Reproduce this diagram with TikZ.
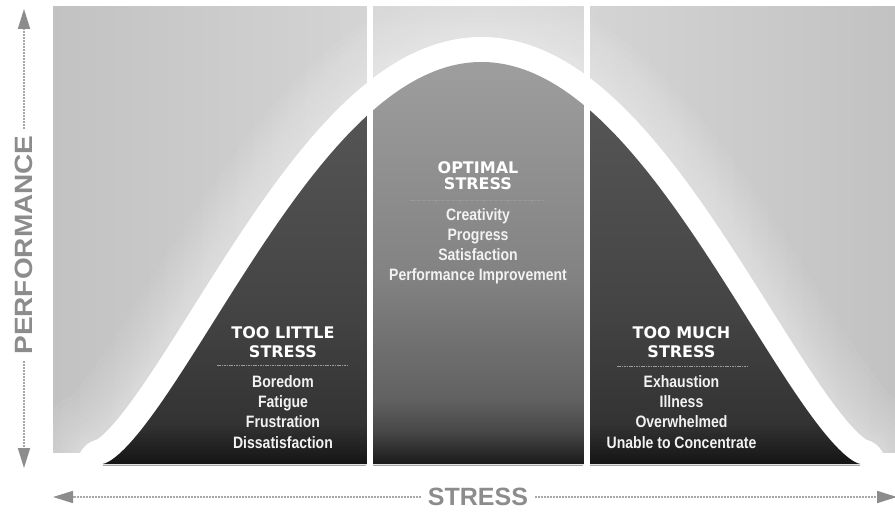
\documentclass[tikz,border=0pt]{standalone}
\usepackage{fontspec}
\setmainfont{Liberation Sans}
\newfontfamily\headfont{DejaVu Sans}
\newfontfamily\itemfont[FakeStretch=0.85]{Liberation Sans}
\newfontfamily\perffont[FakeStretch=1.12]{Liberation Sans}
\usetikzlibrary{arrows.meta}
\definecolor{axisgray}{HTML}{8C8C8C}
\definecolor{axisline}{HTML}{A8A8A8}
\definecolor{bgdark}{HTML}{C2C2C2}
\definecolor{bglight}{HTML}{D4D4D4}
\definecolor{bgmidtop}{HTML}{D8D8D8}
\definecolor{bgmidbot}{HTML}{E6E6E6}
\definecolor{septone}{HTML}{9C9C9C}
\definecolor{itemwhite}{HTML}{F2F2F2}
\pgfdeclareverticalshading{sidepanel}{100bp}{color(0bp)=(black!92); color(25bp)=(black!92); color(30bp)=(black!80); color(45bp)=(black!73); color(75bp)=(black!65); color(100bp)=(black!65)}
\pgfdeclareverticalshading{midpanel}{100bp}{color(0bp)=(black!90); color(25bp)=(black!90); color(29bp)=(black!72); color(33bp)=(black!62); color(48bp)=(black!49); color(75bp)=(black!38); color(100bp)=(black!38)}
\newcommand\bellcurve{plot[domain=-379:379,samples=241] ({481.5+\x},{464-402*max(0,1-(\x/379)*(\x/379))*sqrt(max(0,1-(\x/379)*(\x/379)))})}
\tikzset{
  headtxt/.style={font=\headfont\bfseries\fontsize{16}{19}\selectfont, text=white, anchor=base, inner sep=0pt},
  itemtxt/.style={font=\itemfont\bfseries\fontsize{16.5}{20}\selectfont, text=itemwhite, anchor=base, inner sep=0pt},
  sepline/.style={septone, line width=0.8pt, dash pattern=on 1.6pt off 0.8pt},
  axisdash/.style={axisline, line width=1.6pt, dash pattern=on 2pt off 1pt, -{Triangle[length=20pt,width=12pt,color=axisgray]}},
  perflabel/.style={font=\perffont\bfseries\fontsize{25}{30}\selectfont, text=axisgray, inner sep=6pt},
  stresslabel/.style={font=\bfseries\fontsize{25}{30}\selectfont, text=axisgray, inner sep=7pt},
  divider/.style={fill=white},
  glow/.style={white, opacity=0.05, line cap=round},
  baseshadow/.style={black!35, line width=1pt}
}
\begin{document}
\begin{tikzpicture}[x=1pt,y=-1pt]
\useasboundingbox (0,0) rectangle (895,519);
\fill[white] (0,0) rectangle (895,519);
% background panels
\shade[left color=bgdark, right color=bglight] (53,7) rectangle (367,452);
\shade[top color=bgmidtop, bottom color=bgmidbot] (372,7) rectangle (584,452);
\shade[left color=bglight, right color=bgdark] (589,7) rectangle (895,452);
% soft glow and white band
\begin{scope}
  \clip (53,7) rectangle (895,452);
  \foreach \w in {150,138,126,114,102,90,80,70,62}
    \draw[glow, line width=\w pt] \bellcurve;
\end{scope}
\draw[white, line width=50pt, line cap=round] \bellcurve;
% dark panels under the curve
\begin{scope}
  \clip \bellcurve -- cycle;
  \shade[shading=sidepanel] (100,60) rectangle (367,464);
  \shade[shading=midpanel] (372,60) rectangle (584,464);
  \shade[shading=sidepanel] (589,60) rectangle (864,464);
\end{scope}
\draw[baseshadow] (103,465.5) -- (366,465.5);
\draw[baseshadow] (373,465.5) -- (583,465.5);
\draw[baseshadow] (590,465.5) -- (860,465.5);
% dividers
\fill[divider] (366.5,3) rectangle (372.5,464.8);
\fill[divider] (583.5,3) rectangle (589.5,464.8);
% middle block
\node[headtxt] (mh1) at (478,173) {OPTIMAL};
\node[headtxt] (mh2) at (478,189.5) {STRESS};
\draw[sepline] (410,200) -- (544,200);
\node[itemtxt] (mi1) at (478,220) {Creativity};
\node[itemtxt] (mi2) at (478,240) {Progress};
\node[itemtxt] (mi3) at (478,260.5) {Satisfaction};
\node[itemtxt] (mi4) at (478,280.5) {Performance Improvement};
% left block
\node[headtxt] (lh1) at (283,338.5) {TOO LITTLE};
\node[headtxt] (lh2) at (283,357) {STRESS};
\draw[sepline] (217,365) -- (348,365);
\node[itemtxt] (li1) at (283,387) {Boredom};
\node[itemtxt] (li2) at (283,407.5) {Fatigue};
\node[itemtxt] (li3) at (283,427.5) {Frustration};
\node[itemtxt] (li4) at (283,448) {Dissatisfaction};
% right block
\node[headtxt] (rh1) at (681.5,338.5) {TOO MUCH};
\node[headtxt] (rh2) at (681.5,357) {STRESS};
\draw[sepline] (617,366) -- (748,366);
\node[itemtxt] (ri1) at (681.5,387) {Exhaustion};
\node[itemtxt] (ri2) at (681.5,407.5) {Illness};
\node[itemtxt] (ri3) at (681.5,427.5) {Overwhelmed};
\node[itemtxt] (ri4) at (681.5,448) {Unable to Concentrate};
% axes
\node[perflabel, rotate=90] (perf) at (24,245) {PERFORMANCE};
\coordinate (ptop) at (24,9);
\coordinate (pbot) at (24,468);
\draw[axisdash] (perf.east) -- (ptop);
\draw[axisdash] (perf.west) -- (pbot);
\node[stresslabel] (stress) at (478,497) {STRESS};
\coordinate (sleft) at (53,497);
\coordinate (sright) at (897,497);
\draw[axisdash] (stress.west) -- (sleft);
\draw[axisdash] (stress.east) -- (sright);
\end{tikzpicture}
\end{document}
